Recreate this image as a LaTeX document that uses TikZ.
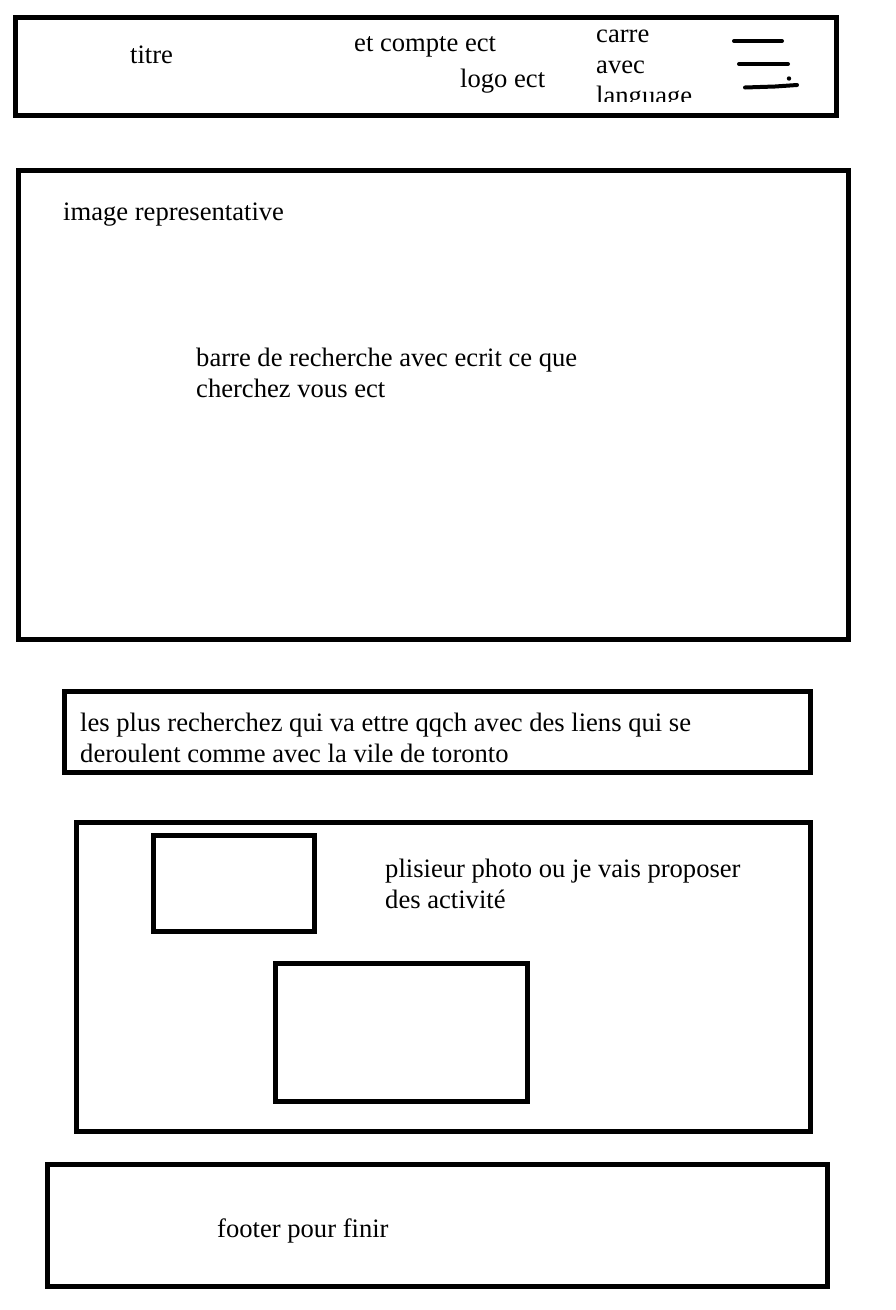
\documentclass[tikz,border=0pt]{standalone}
\usepackage{fontspec}
\setmainfont{Liberation Serif}
\begin{document}
\begin{tikzpicture}[x=1pt,y=-1pt,
  frame/.style={draw=black,line width=4.6pt},
  label/.style={anchor=base west,inner sep=0pt,align=left,
    font=\fontsize{26.6}{31}\selectfont},
  bar/.style={line width=4pt,line cap=round}]
\useasboundingbox[fill=white] (0,0) rectangle (896,1310);

% header bar (base anchor of a multi-line label sits on its last line)
\draw[frame] (15.5,17.5) rectangle (836.5,115.5);
\node[label] (title) at (130,63) {titre};
\node[label] (account) at (354,51) {et compte ect};
\node[label] (logo) at (460,87) {logo ect};
\begin{scope}
  \clip (580,20) rectangle (720,101.5);
  \node[label] (lang) at (596,104) {carre\\avec\\language};
\end{scope}
% menu icon
\draw[bar] (734,41) -- (782,41);
\draw[bar] (739,64) -- (788,64);
\draw[bar] (745,87.5) -- (775,86.5) -- (797,85);
\fill (789,78.5) circle (2.2);

% hero image
\draw[frame] (18.5,170.5) rectangle (848.5,639.5);
\node[label] (hero) at (63,220) {image representative};
\node[label] (search) at (196,397) {barre de recherche avec ecrit ce que\\cherchez vous ect};

% most searched
\draw[frame] (64.5,691.5) rectangle (810.5,772.5);
\node[label] (popular) at (80,762) {les plus recherchez qui va ettre qqch avec des liens qui se\\deroulent comme avec la vile de toronto};

% activities
\draw[frame] (76.5,822.5) rectangle (810.5,1131.5);
\draw[frame] (153.5,835.5) rectangle (314.5,931.5);
\draw[frame] (275.5,963.5) rectangle (527.5,1101.5);
\node[label] (photos) at (385,908) {plisieur photo ou je vais proposer\\des activité};

% footer
\draw[frame] (47.5,1164.5) rectangle (827.5,1286.5);
\node[label] (footer) at (217,1237) {footer pour finir};
\end{tikzpicture}
\end{document}
